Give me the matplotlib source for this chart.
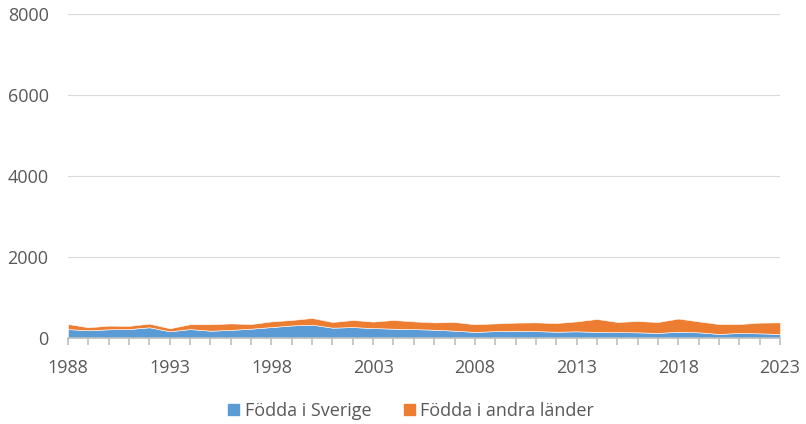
import matplotlib
matplotlib.use("Agg")
import matplotlib.pyplot as plt
import matplotlib.patches as mpatch
import numpy as np

plt.rcParams['font.family'] = ['Open Sans', 'DejaVu Sans']

years = list(range(1988, 2024))
# Födda i Sverige (nedre lager)
sverige = [220, 190, 215, 220, 265, 165, 220, 180, 200, 230, 270, 310,
           330, 255, 270, 245, 230, 220, 205, 180, 150, 170, 180, 170,
           155, 165, 150, 145, 140, 125, 155, 140, 100, 125, 115, 100]
# Födda i andra länder (övre lager)
andra = [125, 75, 90, 80, 90, 75, 120, 160, 160, 115, 140, 135,
         165, 140, 175, 160, 215, 190, 180, 215, 190, 190, 200, 215,
         215, 245, 320, 250, 280, 270, 325, 270, 245, 220, 265, 285]
labels = ['Födda i Sverige', 'Födda i andra länder']
colors = ['#5B9BD5', '#ED7D31']

fig = plt.figure(figsize=(8.06, 4.24), dpi=100)
ax = fig.add_axes([68/806, 1-338/424, 712/806, 324/424])

ax.stackplot(years, sverige, andra, colors=colors, labels=labels,
             edgecolor='white', linewidth=0.4)

ax.set_xlim(1988, 2023)
ax.set_ylim(0, 8000)
ax.set_yticks(np.arange(0, 8001, 2000))
ax.set_xticks(years, minor=True)
ax.set_xticks(years[::5])
ax.grid(axis='y', color='#D9D9D9', linewidth=0.8)
ax.set_axisbelow(True)

for s in ['top', 'right', 'left']:
    ax.spines[s].set_visible(False)
ax.spines['bottom'].set_color('#BFBFBF')
ax.spines['bottom'].set_linewidth(1.2)
ax.spines['bottom'].set_zorder(5)

ax.tick_params(axis='y', length=0, labelsize=13, labelcolor='#595959', pad=14)
ax.tick_params(axis='x', which='both', length=5, color='#BFBFBF', width=1.2,
               labelsize=13, labelcolor='#595959', pad=10)

handles = [mpatch.Patch(color=c) for c in colors]
fig.legend(handles, labels, loc='center', bbox_to_anchor=(0.51, 1-411/424), ncol=2,
           frameon=False, fontsize=13, handlelength=0.6, handleheight=0.6,
           handletextpad=0.3, columnspacing=1.8, labelcolor='#595959',
           borderpad=0)

fig.savefig('out.png', dpi=100)
